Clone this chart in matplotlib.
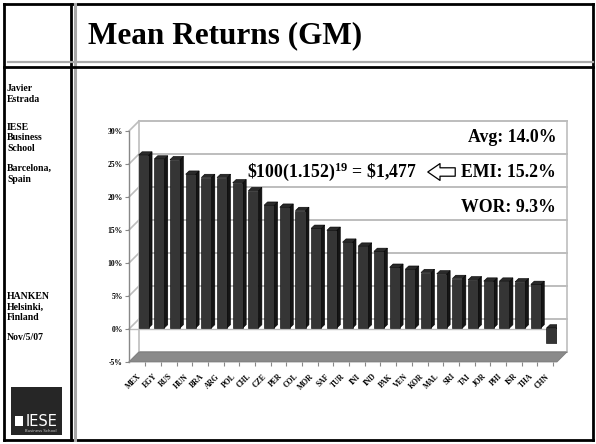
import numpy as np
import matplotlib
matplotlib.use('Agg')
import matplotlib.pyplot as plt
from matplotlib.lines import Line2D
from matplotlib.patches import Polygon, Rectangle, FancyArrowPatch
from matplotlib.transforms import ScaledTranslation

plt.rcParams['font.family'] = ['Liberation Serif', 'DejaVu Serif']
plt.rcParams['font.weight'] = 'bold'
plt.rcParams['mathtext.fontset'] = 'custom'
plt.rcParams['mathtext.rm'] = 'Liberation Serif:bold'
plt.rcParams['mathtext.it'] = 'Liberation Serif:bold'

countries = ['MEX', 'EGY', 'RUS', 'HUN', 'BRA', 'ARG', 'POL', 'CHL', 'CZE', 'PER',
             'COL', 'MOR', 'SAF', 'TUR', 'INI', 'IND', 'PAK', 'VEN', 'KOR', 'MAL',
             'SRI', 'TAI', 'JOR', 'PHI', 'ISR', 'THA', 'CHN']
returns = [26.2, 25.6, 25.5, 23.3, 22.8, 22.8, 22.0, 20.8, 18.6, 18.3,
           17.8, 15.1, 14.8, 13.0, 12.4, 11.6, 9.2, 8.9, 8.4, 8.2,
           7.5, 7.3, 7.1, 7.1, 7.0, 6.6, -2.2]
yticks = [-5, 0, 5, 10, 15, 20, 25, 30]
notes = ['Avg: 14.0%', 'EMI: 15.2%', 'WOR: 9.3%']
formula = r'\$100(1.152)$^{19}$ = \$1,477'
side_text = ['Javier\nEstrada', 'IESE\nBusiness\nSchool', 'Barcelona,\nSpain',
             'HANKEN\nHelsinki,\nFinland', 'Nov/5/07']

W, H = 596, 444
fig = plt.figure(figsize=(W / 100, H / 100), dpi=100)
fig.patch.set_facecolor('white')


def fx(px):
    return px / W


def fy(py):
    return 1 - py / H


def fline(x0, y0, x1, y1, **kw):
    fig.add_artist(Line2D([fx(x0), fx(x1)], [fy(y0), fy(y1)],
                          transform=fig.transFigure, **kw))


# slide frame
fline(4, 4, 593, 4, color='black', lw=2)
fline(4, 440, 593, 440, color='black', lw=2)
fline(4, 4, 4, 440, color='black', lw=2)
fline(593, 4, 593, 440, color='black', lw=2)
fline(71, 4, 71, 440, color='black', lw=2)
fline(74.5, 4, 74.5, 440, color='#a8a8a8', lw=2.2)
fline(8, 62, 593, 62, color='#a8a8a8', lw=1.6)
fline(4, 67, 593, 67, color='black', lw=2)

fig.text(fx(88), fy(43), 'Mean Returns (GM)', fontsize=22.5, va='baseline', ha='left')

side_y = [94, 138, 174, 307, 337]
for txt, yy in zip(side_text, side_y):
    fig.text(fx(7), fy(yy), txt, fontsize=7, va='center', ha='left', linespacing=1.25)

# logo
fig.add_artist(Rectangle((fx(11), fy(435)), fx(51), 48 / H, transform=fig.transFigure,
                         facecolor='#262626', edgecolor='none'))
fig.text(fx(26), fy(421), 'IESE', fontsize=10.5, color='white',
         family=['Liberation Sans Narrow', 'DejaVu Sans'],
         fontweight='normal', va='center', ha='left')
fig.add_artist(Rectangle((fx(15), fy(426)), fx(8), 10 / H, transform=fig.transFigure,
                         facecolor='white', edgecolor='none'))
fig.text(fx(41), fy(431), 'Business School', fontsize=2.8, color='#cccccc',
         family='DejaVu Sans', fontweight='normal', va='center', ha='center')

# chart
ax = fig.add_axes([fx(129), fy(362), 428 / W, 231 / H])
x = np.arange(len(countries))
x0, xr = -0.83, 26.45
ax.set_xlim(x0, xr)
ax.set_ylim(-5, 30)
dx, dy = 0.64, 1.52
grid = '#bdbdbd'

# side wall and back wall
for v in yticks:
    ax.plot([x0, x0 + dx], [v, v + dy], color=grid, lw=1.2, clip_on=False, zorder=1)
    ax.plot([x0 + dx, xr + dx], [v + dy, v + dy], color=grid, lw=1.4, clip_on=False, zorder=1)
ax.plot([x0 + dx, x0 + dx], [-5 + dy, 30 + dy], color=grid, lw=1.2, clip_on=False, zorder=1)
ax.plot([xr + dx, xr + dx], [-5 + dy, 30 + dy], color=grid, lw=1.2, clip_on=False, zorder=1)

# floor
ax.add_patch(Polygon([[x0, -5], [xr, -5], [xr + dx, -5 + dy], [x0 + dx, -5 + dy]],
                     closed=True, facecolor='#8a8a8a', edgecolor='#777777', lw=0.5,
                     clip_on=False, zorder=2))
ax.plot([x0, xr], [0, 0], color=grid, lw=1.0, zorder=2)

# 3D bars
w, bdx, bdy, ox, oy = 0.64, 0.22, 0.5, 0.1, 0.15
for xi, v in zip(x, returns):
    l, r = xi - w / 2 + ox, xi + w / 2 + ox
    lo, hi = min(0, v) + oy, max(0, v) + oy
    ax.add_patch(Polygon([[r, lo], [r + bdx, lo + bdy], [r + bdx, hi + bdy], [r, hi]],
                         facecolor='#151515', edgecolor='#000000', lw=0.4, zorder=3))
    ax.add_patch(Polygon([[l, hi], [r, hi], [r + bdx, hi + bdy], [l + bdx, hi + bdy]],
                         facecolor='#2a2a2a', edgecolor='#000000', lw=0.4, zorder=3))
    ax.add_patch(Rectangle((l, lo), w, hi - lo, facecolor='#353535',
                           edgecolor='#000000', lw=0.4, zorder=4))

for s in ['top', 'right', 'bottom']:
    ax.spines[s].set_visible(False)
ax.spines['left'].set_color('#888888')
ax.spines['left'].set_linewidth(1)
ax.patch.set_alpha(0)

ax.set_yticks(yticks, [f'{t}%' for t in yticks], fontsize=5.5)
ax.tick_params(axis='y', length=3, width=0.8, color='#888888', pad=1.5)
ax.set_xticks(x + 0.2, countries, rotation=45, ha='right', va='top',
              rotation_mode='anchor', fontsize=5.5)
ax.tick_params(axis='x', length=3, width=0.8, color='#888888', pad=4.5)
for lbl in ax.get_xticklabels():
    lbl.set_transform(lbl.get_transform() + ScaledTranslation(-8 / 100, 0, fig.dpi_scale_trans))

# annotations
note_y = [138, 172, 207]
for txt, yy in zip(notes, note_y):
    fig.text(fx(556), fy(yy), txt, fontsize=12.8, ha='right', va='center')
fig.text(fx(417), fy(172), formula, fontsize=12.8, ha='right', va='center')
fig.add_artist(FancyArrowPatch((fx(458), fy(172)), (fx(425), fy(172)),
                               transform=fig.transFigure,
                               arrowstyle='simple,head_width=1.1,head_length=0.8,tail_width=0.55',
                               mutation_scale=11, facecolor='white', edgecolor='black', lw=0.9))

fig.savefig('out.png', dpi=100, facecolor='white')
